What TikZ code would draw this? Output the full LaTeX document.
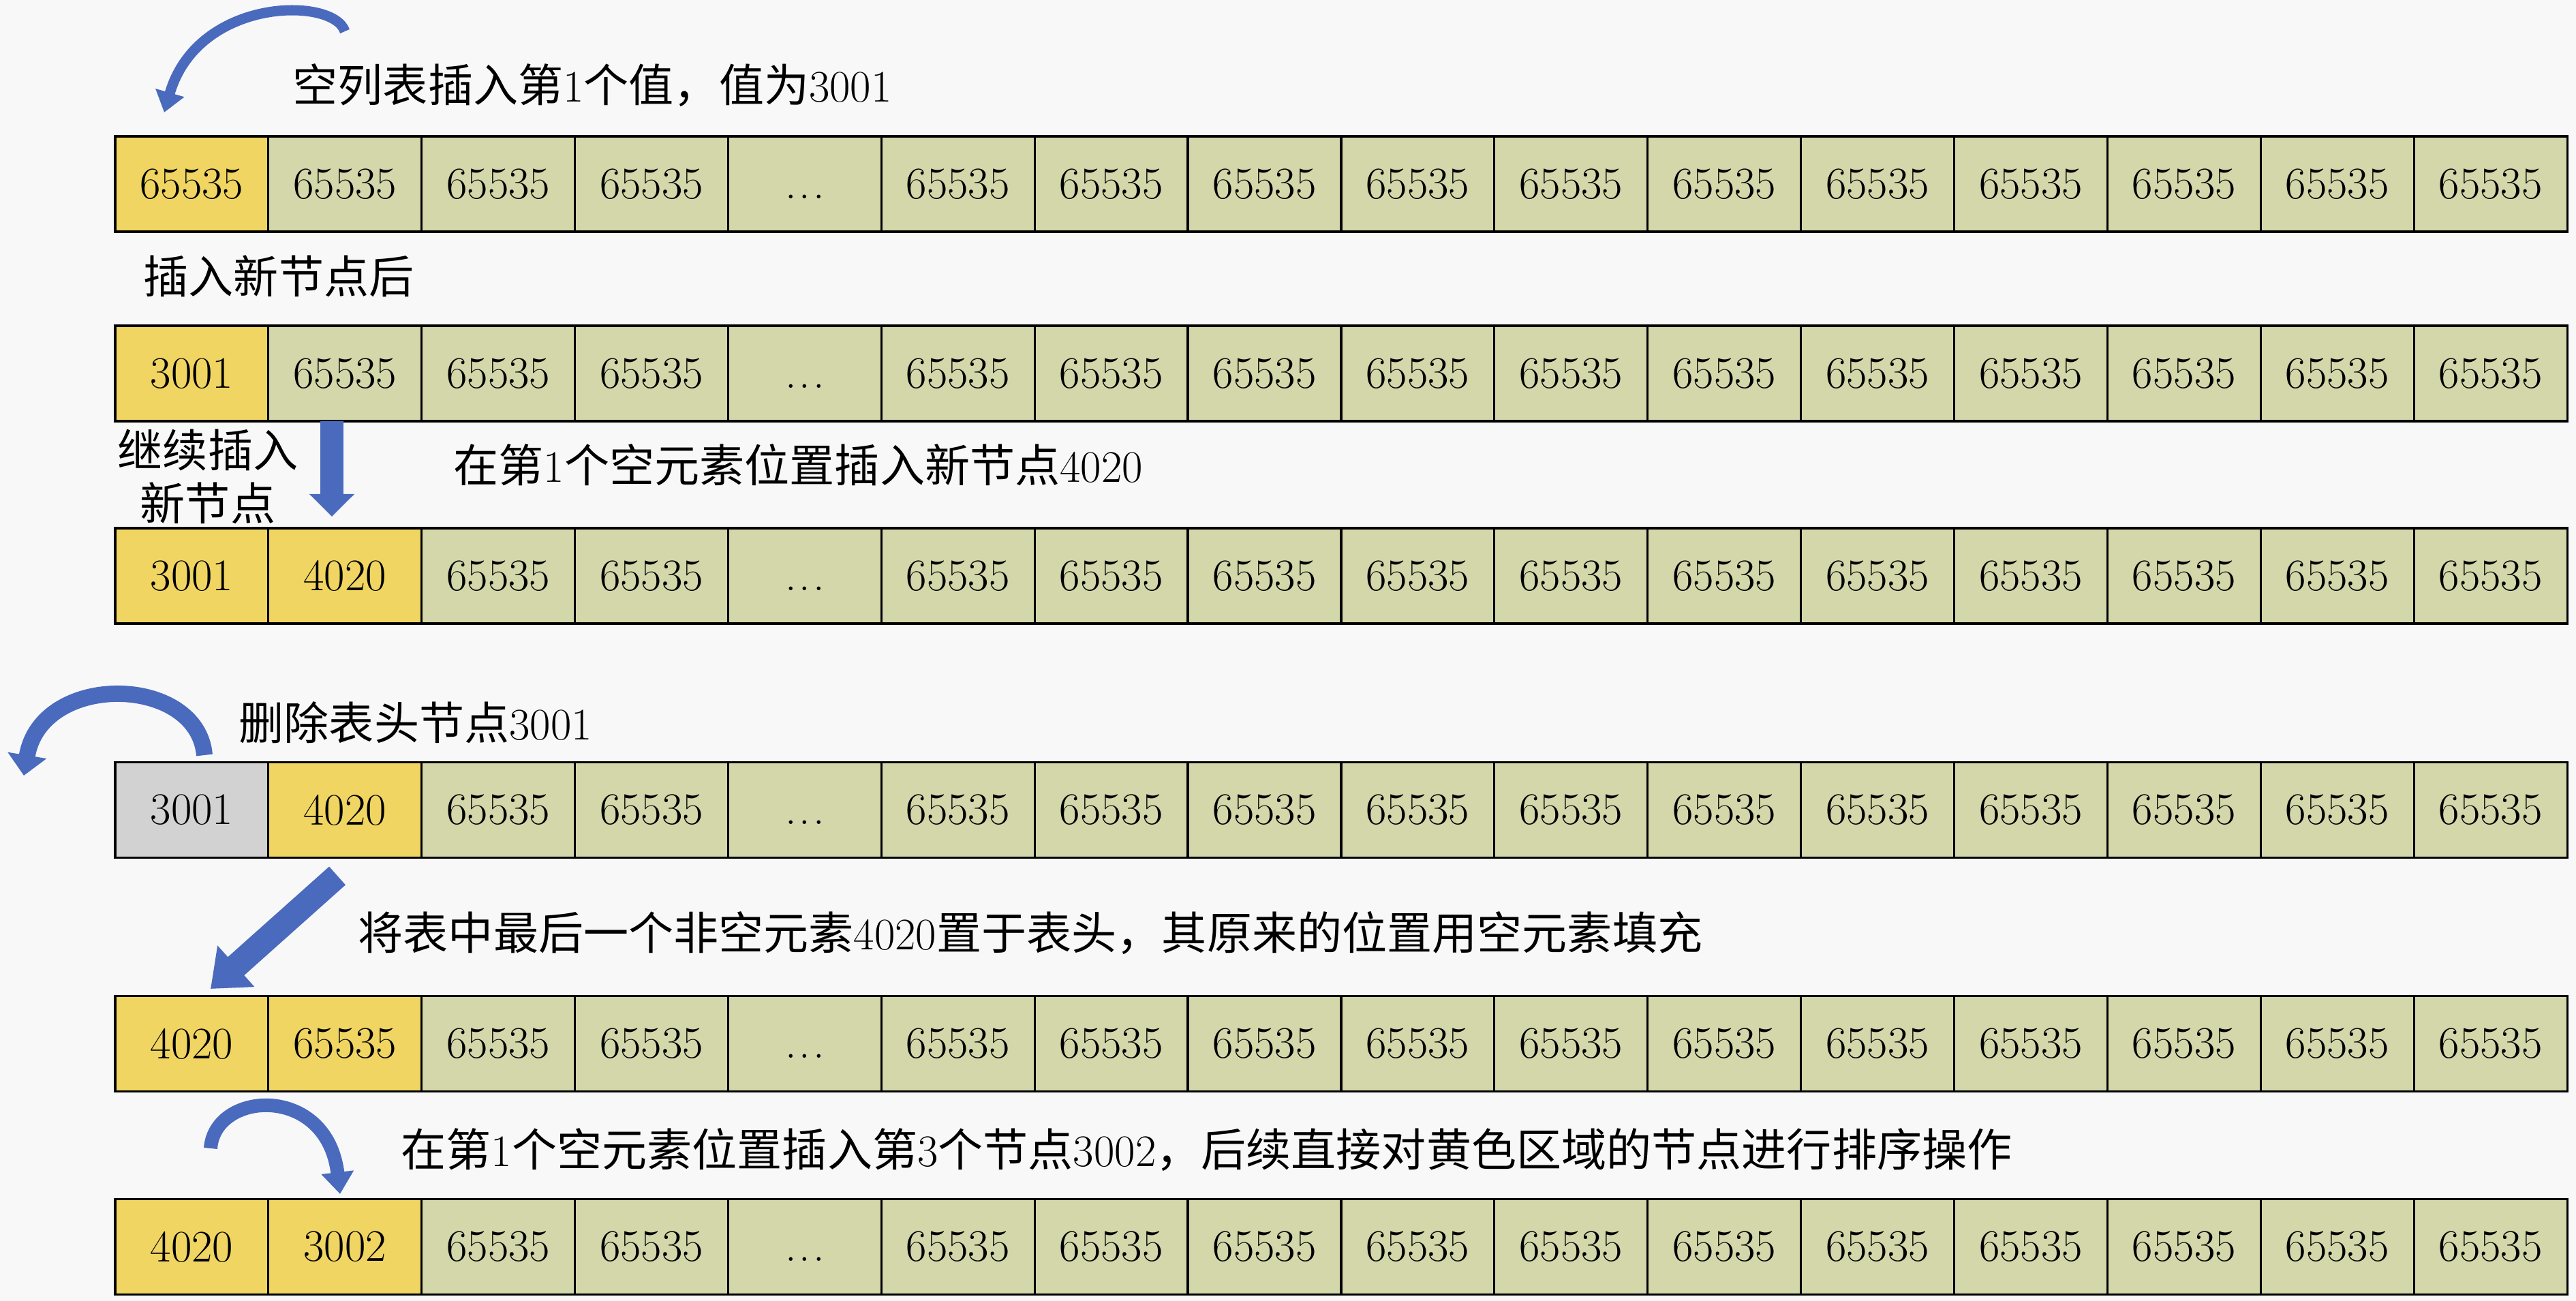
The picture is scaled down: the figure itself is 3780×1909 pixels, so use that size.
\documentclass[tikz,border=0pt]{standalone}
\usepackage{fontspec}
\newfontfamily\cjk{Noto Sans CJK SC}
\usetikzlibrary{arrows.meta}
\definecolor{bg}{RGB}{248,248,248}
\definecolor{cellY}{RGB}{240,213,98}
\definecolor{cellG}{RGB}{211,215,170}
\definecolor{cellH}{RGB}{210,210,210}
\definecolor{arrB}{RGB}{74,106,190}
\newcommand\zh[1]{{\cjk #1}}
\newcommand\mydots{.\kern.06em.\kern.06em.\vphantom{0}}
\tikzset{
  cell/.style={draw=black, line width=0.9pt, minimum width=2.24875cm, minimum height=1.4cm,
    inner sep=0pt, font=\fontsize{18.8}{22}\selectfont, fill=cellG},
  ycell/.style={cell, fill=cellY},
  hcell/.style={cell, fill=cellH},
  captxt/.style={anchor=west, inner sep=0pt, font=\fontsize{18.8}{22.2}\selectfont},
  barrow/.style={draw=arrB, line cap=butt}
}
\begin{document}
\begin{tikzpicture}[x=0.01cm, y=-0.01cm]
\fill[bg] (0,0) rectangle (3780,1909);
\useasboundingbox (0,0) rectangle (3780,1909);

% cells columns 3..16 for all rows
\foreach \r/\y in {1/270, 2/548, 3/845, 4/1188.5, 5/1531.5, 6/1829.5} {
  \foreach \c in {3,...,16} {
    \node[cell] (r\r c\c) at ({281.44+(\c-1)*224.875}, \y) {\ifnum\c=5 \mydots\else 65535\fi};
  }
}
% first two columns
\node[ycell] (r1c1) at (281.44,270) {65535};
\node[cell]  (r1c2) at (506.31,270) {65535};
\node[ycell] (r2c1) at (281.44,548) {3001};
\node[cell]  (r2c2) at (506.31,548) {65535};
\node[ycell] (r3c1) at (281.44,845) {3001};
\node[ycell] (r3c2) at (506.31,845) {4020};
\node[hcell] (r4c1) at (281.44,1188.5) {3001};
\node[ycell] (r4c2) at (506.31,1188.5) {4020};
\node[ycell] (r5c1) at (281.44,1531.5) {4020};
\node[ycell] (r5c2) at (506.31,1531.5) {65535};
\node[ycell] (r6c1) at (281.44,1829.5) {4020};
\node[ycell] (r6c2) at (506.31,1829.5) {3002};

% captions
\node[captxt] (t1) at (429,125) {\zh{空列表插入第}1\zh{个值，值为}3001};
\node[captxt] (t2) at (210,405) {\zh{插入新节点后}};
\node[captxt, anchor=center, align=center] (t3) at (305,699) {\zh{继续插入}\\\zh{新节点}};
\node[captxt] (t4) at (665,682) {\zh{在第}1\zh{个空元素位置插入新节点}4020};
\node[captxt] (t5) at (350,1060) {\zh{删除表头节点}3001};
\node[captxt] (t6) at (525,1369) {\zh{将表中最后一个非空元素}4020\zh{置于表头，其原来的位置用空元素填充}};
\node[captxt] (t7) at (588,1687) {\zh{在第}1\zh{个空元素位置插入第}3\zh{个节点}3002\zh{，后续直接对黄色区域的节点进行排序操作}};

% arrows
\coordinate (a1s) at (506,46);
\coordinate (a1e) at (241,165);
\draw[barrow, line width=0.15cm, -{Triangle[length=0.3cm,width=0.42cm]}]
  (a1s) .. controls (490,-5) and (290,-5) .. (a1e);

\coordinate (a2s) at (487,618);
\coordinate (a2e) at (487,758);
\draw[barrow, line width=0.33cm, -{Triangle[length=0.33cm,width=0.64cm]}] (a2s) -- (a2e);

\coordinate (a3s) at (300,1108);
\coordinate (a3e) at (35,1138);
\draw[barrow, line width=0.24cm, -{Triangle[length=0.3cm,width=0.56cm]}]
  (a3s) .. controls (290,990) and (60,985) .. (a3e);

\coordinate (a4s) at (495,1285);
\coordinate (a4e) at (309,1451);
\draw[barrow, line width=0.36cm, -{Triangle[length=0.5cm,width=0.78cm]}] (a4s) -- (a4e);

\coordinate (a5s) at (309,1685);
\coordinate (a5e) at (499,1752);
\draw[barrow, line width=0.2cm, -{Triangle[length=0.32cm,width=0.46cm]}]
  (a5s) .. controls (315,1600) and (480,1590) .. (a5e);
\end{tikzpicture}
\end{document}
